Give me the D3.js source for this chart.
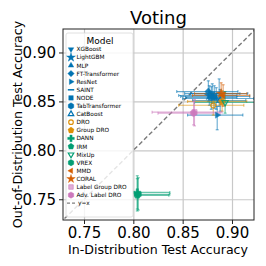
<!DOCTYPE html>
<html>
<head>
<meta charset="utf-8">
<script src="https://cdn.jsdelivr.net/npm/d3@7"></script>
<style>
  html, body { margin: 0; padding: 0; background: #fff; }
  svg { display: block; font-family: "DejaVu Sans", sans-serif; }
</style>
</head>
<body>
<div id="chart"></div>
<script>
// Voting: ID vs OOD accuracy per model, with error bars

const models = ["XGBoost", "LightGBM", "MLP", "FT-Transformer", "ResNet", "SAINT", "NODE",
  "TabTransformer", "CatBoost", "DRO", "Group DRO", "DANN", "IRM", "MixUp", "VREX",
  "MMD", "CORAL", "Label Group DRO", "Adv. Label DRO"];
const idAcc  = [0.880, 0.877, 0.884, 0.876, 0.885, 0.887, 0.882, 0.879, 0.888, 0.881, 0.890,
  0.804, 0.804, 0.893, 0.805, 0.891, 0.889, 0.862, 0.861];
const oodAcc = [0.858, 0.856, 0.853, 0.860, 0.836, 0.858, 0.855, 0.854, 0.851, 0.846, 0.850,
  0.757, 0.754, 0.849, 0.755, 0.856, 0.858, 0.839, 0.838];
const idLo   = [0.852, 0.846, 0.850, 0.844, 0.855, 0.858, 0.848, 0.853, 0.860, 0.846, 0.855,
  0.801, 0.801, 0.862, 0.802, 0.860, 0.862, 0.819, 0.825];
const idHi   = [0.908, 0.905, 0.922, 0.906, 0.911, 0.916, 0.918, 0.905, 0.914, 0.912, 0.915,
  0.837, 0.836, 0.925, 0.837, 0.918, 0.915, 0.890, 0.888];
const oodLo  = [0.848, 0.846, 0.842, 0.850, 0.821, 0.845, 0.843, 0.842, 0.840, 0.836, 0.840,
  0.740, 0.738, 0.838, 0.739, 0.845, 0.847, 0.825, 0.826];
const oodHi  = [0.868, 0.866, 0.864, 0.871, 0.845, 0.873, 0.866, 0.865, 0.862, 0.856, 0.861,
  0.774, 0.771, 0.860, 0.772, 0.867, 0.869, 0.852, 0.850];
const groups = ["blue", "blue", "blue", "blue", "blue", "blue", "blue", "blue", "blue",
  "orange", "orange", "green", "green", "green", "green", "red", "red", "pink", "pink"];
const shapes = ["v", "X", "^", "D", ">", "_", "s", "h", "^o", "oo", "p", "P", "p", "vo", "h", "<", "*", "s+", "h"];
const ticks = [0.75, 0.80, 0.85, 0.90];

const palette = { blue: "#0173b2", orange: "#de8f05", green: "#029e73", red: "#d55e00", pink: "#cc78bc" };

const width = 266, height = 266;
const margin = { top: 29, right: 12, bottom: 46, left: 63 };

const svg = d3.select("#chart").append("svg")
  .attr("width", width).attr("height", height);

const x = d3.scaleLinear().domain([0.7287, 0.9223]).range([margin.left, width - margin.right]);
const y = d3.scaleLinear().domain([0.7288, 0.9240]).range([height - margin.bottom, margin.top]);

// marker path builder
function markerPath(kind, r) {
  const poly = (n, rot) => {
    const pts = d3.range(n).map(i => {
      const a = rot + i * 2 * Math.PI / n;
      return [r * Math.sin(a), -r * Math.cos(a)];
    });
    return "M" + pts.map(p => p.join(",")).join("L") + "Z";
  };
  const k = kind[0];
  if (k === "v") return poly(3, Math.PI);
  if (k === "^") return poly(3, 0);
  if (k === ">") return poly(3, Math.PI / 2);
  if (k === "<") return poly(3, -Math.PI / 2);
  if (k === "D") return poly(4, 0);
  if (k === "s") return poly(4, Math.PI / 4);
  if (k === "h") return poly(6, 0);
  if (k === "p") return poly(5, 0);
  if (k === "o") return d3.symbol(d3.symbolCircle, Math.PI * r * r * 0.5)();
  if (k === "_") return `M${-r},0H${r}`;
  if (k === "*") return d3.symbol(d3.symbolStar, r * r * 2.2)();
  if (k === "P") return d3.symbol(d3.symbolCross, r * r * 2.4)();
  if (k === "X") return d3.symbol(d3.symbolStar, r * r * 2.4)();
  return poly(4, Math.PI / 4);
}

function drawMarker(g, i, cx, cy, r) {
  const col = palette[groups[i]];
  const kind = shapes[i];
  const hollow = kind.length > 1 && kind[1] === "o";
  const p = g.append("path")
    .attr("d", markerPath(kind, r))
    .attr("transform", `translate(${cx},${cy})`);
  if (kind === "_") {
    p.attr("fill", "none").attr("stroke", col).attr("stroke-width", 1.5);
  } else if (hollow) {
    p.attr("fill", "none").attr("stroke", col).attr("stroke-width", 1.2);
  } else if (kind === "s+") {
    p.attr("fill", col).attr("fill-opacity", 0.6).attr("stroke", col).attr("stroke-width", 0.6);
  } else {
    p.attr("fill", col).attr("stroke", col).attr("stroke-width", 0.4);
  }
}

// grid
svg.append("g")
  .attr("transform", `translate(0,${height - margin.bottom})`)
  .call(d3.axisBottom(x).tickValues(ticks).tickSize(-(height - margin.top - margin.bottom)).tickFormat(""))
  .call(g => g.select(".domain").remove())
  .selectAll("line").attr("stroke", "#c8c8c8").attr("stroke-width", 1.2);

svg.append("g")
  .attr("transform", `translate(${margin.left},0)`)
  .call(d3.axisLeft(y).tickValues(ticks).tickSize(-(width - margin.left - margin.right)).tickFormat(""))
  .call(g => g.select(".domain").remove())
  .selectAll("line").attr("stroke", "#c8c8c8").attr("stroke-width", 1.2);

// clip
svg.append("clipPath").attr("id", "plotclip")
  .append("rect")
  .attr("x", margin.left).attr("y", margin.top)
  .attr("width", width - margin.left - margin.right)
  .attr("height", height - margin.top - margin.bottom);

const plot = svg.append("g").attr("clip-path", "url(#plotclip)");

// y = x
const lo = 0.70, hi = 0.95;
plot.append("line")
  .attr("x1", x(lo)).attr("y1", y(lo))
  .attr("x2", x(hi)).attr("y2", y(hi))
  .attr("stroke", "#7a7a7a")
  .attr("stroke-width", 1.4)
  .attr("stroke-dasharray", "4.5,2.5");

// error bars
const cap = 1.5;
models.forEach((m, i) => {
  const col = palette[groups[i]];
  const g = plot.append("g").attr("stroke", col).attr("stroke-opacity", 0.6).attr("stroke-width", 1.1);
  g.append("line").attr("x1", x(idLo[i])).attr("x2", x(idHi[i])).attr("y1", y(oodAcc[i])).attr("y2", y(oodAcc[i]));
  g.append("line").attr("x1", x(idAcc[i])).attr("x2", x(idAcc[i])).attr("y1", y(oodLo[i])).attr("y2", y(oodHi[i]));
  [idLo[i], idHi[i]].forEach(v => g.append("line")
    .attr("x1", x(v)).attr("x2", x(v)).attr("y1", y(oodAcc[i]) - cap).attr("y2", y(oodAcc[i]) + cap));
  [oodLo[i], oodHi[i]].forEach(v => g.append("line")
    .attr("x1", x(idAcc[i]) - cap).attr("x2", x(idAcc[i]) + cap).attr("y1", y(v)).attr("y2", y(v)));
});

// markers
models.forEach((m, i) => {
  const g = plot.append("g").attr("opacity", 0.85);
  drawMarker(g, i, x(idAcc[i]), y(oodAcc[i]), 3.6);
});

// frame
svg.append("rect")
  .attr("x", margin.left).attr("y", margin.top)
  .attr("width", width - margin.left - margin.right)
  .attr("height", height - margin.top - margin.bottom)
  .attr("fill", "none").attr("stroke", "#222").attr("stroke-width", 1);

// axes
const xAxis = svg.append("g")
  .attr("transform", `translate(0,${height - margin.bottom})`)
  .call(d3.axisBottom(x).tickValues(ticks).tickSize(4).tickPadding(3).tickFormat(d3.format(".2f")));
xAxis.select(".domain").remove();
xAxis.selectAll("text").attr("font-size", 15).attr("fill", "#000").attr("font-family", "DejaVu Sans");
xAxis.selectAll("line").attr("stroke", "#222");

const yAxis = svg.append("g")
  .attr("transform", `translate(${margin.left},0)`)
  .call(d3.axisLeft(y).tickValues(ticks).tickSize(4).tickPadding(3).tickFormat(d3.format(".2f")));
yAxis.select(".domain").remove();
yAxis.selectAll("text").attr("font-size", 15).attr("fill", "#000").attr("font-family", "DejaVu Sans");
yAxis.selectAll("line").attr("stroke", "#222");

// title and axis labels
svg.append("text")
  .attr("x", (margin.left + width - margin.right) / 2).attr("y", 24)
  .attr("text-anchor", "middle").attr("font-size", 18).text("Voting");

svg.append("text")
  .attr("x", 158).attr("y", 254)
  .attr("text-anchor", "middle").attr("font-size", 12.6).text("In-Distribution Test Accuracy");

svg.append("text")
  .attr("transform", `translate(17,${(margin.top + height - margin.bottom) / 2}) rotate(-90)`)
  .attr("text-anchor", "middle").attr("dominant-baseline", "central")
  .attr("font-size", 12.6).text("Out-of-Distribution Test Accuracy");

// legend
const lg = svg.append("g");
lg.append("rect")
  .attr("x", 66).attr("y", 33).attr("width", 67).attr("height", 184).attr("rx", 2)
  .attr("fill", "#fff").attr("fill-opacity", 0.8)
  .attr("stroke", "#d8d8d8").attr("stroke-width", 0.8);

lg.append("text")
  .attr("x", 100).attr("y", 44).attr("text-anchor", "middle")
  .attr("font-size", 9).text("Model");

const rowY = i => 49.3 + i * 8.1;
models.forEach((m, i) => {
  drawMarker(lg, i, 71, rowY(i), 3.2);
  lg.append("text")
    .attr("x", 76.5).attr("y", rowY(i)).attr("dominant-baseline", "central")
    .attr("font-size", 5.8).text(m);
});
lg.append("line")
  .attr("x1", 67).attr("x2", 76).attr("y1", rowY(19)).attr("y2", rowY(19))
  .attr("stroke", "#808080").attr("stroke-width", 1.2).attr("stroke-dasharray", "3,2");
lg.append("text")
  .attr("x", 78).attr("y", rowY(19)).attr("dominant-baseline", "central")
  .attr("font-size", 5.8).text("y=x");
</script>
</body>
</html>
